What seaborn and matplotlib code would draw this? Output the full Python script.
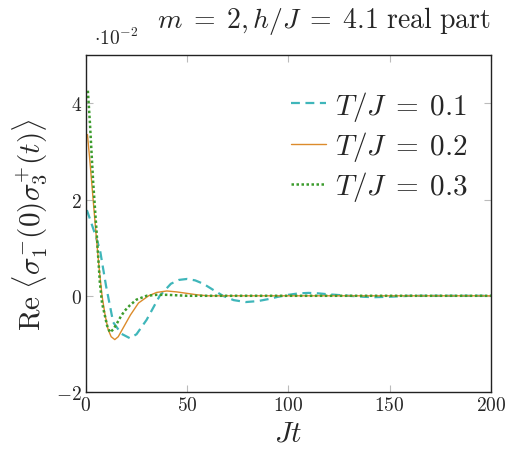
import numpy as np
import pandas as pd
import seaborn as sns
import matplotlib.pyplot as plt

# values in units of 1e-2
t1 = [0.5, 2, 4, 7, 10, 13.5, 17.6, 21.7, 25, 30, 36.5, 42, 46, 50, 54, 58, 63, 67.7,
      73, 79, 85, 90, 95, 100, 105, 110, 115, 120, 130, 137, 142, 150, 160, 180, 200]
v1 = [1.78, 1.6, 1.35, 0.95, 0.2, -0.55, -0.79, -0.88, -0.8, -0.5, 0.0, 0.25, 0.33, 0.35,
      0.32, 0.25, 0.12, 0.0, -0.09, -0.13, -0.11, -0.07, -0.02, 0.02, 0.05, 0.06, 0.05,
      0.03, 0.0, -0.02, -0.03, -0.02, 0.0, 0.0, 0.0]

t2 = [0.8, 2, 3, 5, 6.5, 8, 9.5, 11, 12.5, 14.3, 16, 18, 20, 22, 26, 31, 35, 40, 45,
      50, 55, 60, 70, 100, 150, 200]
v2 = [3.35, 2.8, 2.3, 1.3, 0.6, 0.0, -0.4, -0.7, -0.85, -0.91, -0.85, -0.7, -0.55, -0.4,
      -0.15, 0.0, 0.07, 0.1, 0.08, 0.05, 0.02, 0.0, 0.0, 0.0, 0.0, 0.0]

t3 = [1.0, 2, 3.6, 5.3, 6.9, 8, 9.4, 10.5, 11.9, 13.5, 15, 17, 19, 21.7, 25, 30, 35, 40,
      50, 70, 100, 150, 200]
v3 = [4.26, 3.6, 2.37, 1.33, 0.29, -0.15, -0.41, -0.62, -0.76, -0.7, -0.6, -0.45, -0.32,
      -0.2, -0.08, 0.0, 0.02, 0.02, 0.0, 0.0, 0.0, 0.0, 0.0]

labels = [r"$T/J\;=\;0.1$", r"$T/J\;=\;0.2$", r"$T/J\;=\;0.3$"]
colors = ["#3fb6ba", "#dc8b2b", "#3c9c2d"]
styles = [(0, (4, 2.5)), "-", (0, (1, 1))]
widths = [1.6, 1.0, 1.8]

x_ticks = [0, 50, 100, 150, 200]
y_ticks = [-2, 0, 2, 4]

sns.set_theme(style="ticks")
plt.rcParams["font.family"] = ["DejaVu Serif"]
plt.rcParams["mathtext.fontset"] = "cm"

fig = plt.figure(figsize=(5.14, 4.56), dpi=100)
ax = fig.add_axes([0.167, 0.138, 0.788, 0.739])

for t, v, lab, c, ls, lw in zip([t1, t2, t3], [v1, v2, v3], labels, colors, styles, widths):
    sns.lineplot(x=t, y=v, ax=ax, label=lab, color=c, linestyle=ls, linewidth=lw)

ax.set_xlim(0, 200)
ax.set_ylim(-2, 5)
ax.set_xticks(x_ticks)
ax.set_yticks(y_ticks)
ax.set_xticklabels([f"${x}$" for x in x_ticks], fontsize=14)
ax.set_yticklabels([f"${y}$" for y in y_ticks], fontsize=14)
ax.tick_params(direction="in", length=5, width=0.8, color="#bbbbbb",
               top=True, right=True, pad=3)

for s in ax.spines.values():
    s.set_color("#222222")
    s.set_linewidth(1.0)

ax.set_xlabel(r"$Jt$", fontsize=21, labelpad=3)
ax.set_ylabel(r"$\mathrm{Re}\ \langle\sigma_1^{-}(0)\sigma_3^{+}(t)\rangle$", fontsize=21, labelpad=5)
ax.set_title(r"$m\;=\;2, h/J\;=\;4.1\ \mathrm{real\ part}$", fontsize=20, loc="right", pad=20)
fig.text(0.183, 0.902, r"$\cdot 10^{-2}$", fontsize=14)

ax.legend(loc="upper right", frameon=False, fontsize=21, handlelength=1.2,
          handletextpad=0.3, labelspacing=0.22, borderaxespad=0.4,
          bbox_to_anchor=(1.0, 0.97))

fig.savefig("out.png", dpi=100)
